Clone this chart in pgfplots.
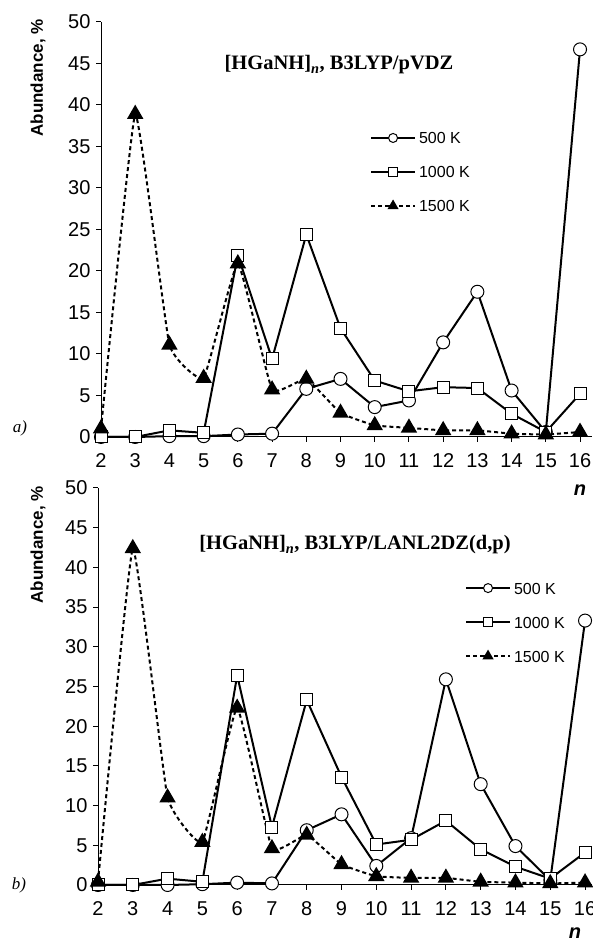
\documentclass[border=0pt]{standalone}
\usepackage{pgfplots}
\pgfplotsset{compat=1.18}
\usepackage{fontspec}
\setmainfont{Liberation Serif}
\setsansfont{Liberation Sans}

\pgfplotstableread{
n  a    b    c
2  0.0  0.0  1.0
3  0.0  0.0  38.9
4  0.1  0.8  11.1
5  0.1  0.5  7.1
6  0.3  21.9 20.9
7  0.4  9.4  5.7
8  5.8  24.4 7.0
9  7.0  13.1 2.9
10 3.6  6.8  1.4
11 4.4  5.5  1.1
12 11.4 6.0  0.8
13 17.5 5.9  0.8
14 5.6  2.8  0.4
15 0.6  0.6  0.3
16 46.7 5.2  0.6
}\topdata

\pgfplotstableread{
n  a    b    c
2  0.0  0.0  0.4
3  0.0  0.0  42.4
4  0.0  0.8  11.0
5  0.1  0.4  5.4
6  0.3  26.4 22.3
7  0.2  7.3  4.6
8  6.9  23.3 6.3
9  8.9  13.6 2.6
10 2.4  5.1  1.1
11 5.9  5.7  0.9
12 25.9 8.1  0.9
13 12.7 4.5  0.4
14 4.9  2.3  0.3
15 0.6  0.8  0.2
16 33.3 4.1  0.3
}\botdata

\pgfplotsset{
  myaxis/.style={
    scale only axis,
    axis lines=left,
    axis line style={-, line width=1pt},
    ymin=0, ymax=50,
    xtick={2,...,16},
    ytick={0,5,...,50},
    tick style={black, line width=1pt},
    major tick length=5pt,
    tick align=outside,
    /pgf/number format/assume math mode=true,
    ticklabel style={font=\sffamily\fontsize{20}{22}\selectfont},
    xticklabel style={yshift=-8pt},
    yticklabel style={xshift=-2pt},
    clip=false,
    legend cell align=left,
    legend style={draw=none, fill=none, anchor=north west, inner sep=0pt, outer sep=0pt,
      font=\sffamily\fontsize{16}{16}\selectfont, row sep=22pt, column sep=3pt,
      nodes={inner sep=0pt, text height=12pt, text depth=0pt}},
    legend image code/.code={
      \draw[#1, mark repeat=2, mark phase=2] plot coordinates {(0pt,0pt) (22pt,0pt) (44pt,0pt)};
    },
  },
  s500/.style={black, line width=2pt, mark=*, mark size=6.5pt, mark options={fill=white, line width=1pt, solid}},
  s1000/.style={black, line width=2pt, mark=square*, mark size=6pt, mark options={fill=white, line width=1pt, solid}},
  s1500/.style={black, line width=2pt, dash pattern=on 4pt off 3pt, smooth, tension=0.2, mark=triangle*, mark size=7.5pt, mark options={fill=black, solid}},
}

\begin{document}
\begin{tikzpicture}[x=1pt, y=1pt]
\path[use as bounding box] (0,0) rectangle (592,941);

% top panel
\begin{axis}[myaxis, at={(101pt,504pt)}, anchor=south west, width=491pt, height=415pt,
  xmin=2, xmax=16.35,
  legend style={at={(0.548,0.735)}},
  legend image post style={mark size=4.5pt}]
\addplot[s500] table[x=n, y=a] {\topdata};
\addlegendentry{500 K}
\addplot[s1000] table[x=n, y=b] {\topdata};
\addlegendentry{1000 K}
\addplot[s1500] table[x=n, y=c] {\topdata};
\addlegendentry{1500 K}
\end{axis}

% bottom panel
\begin{axis}[myaxis, at={(98pt,56pt)}, anchor=south west, width=494pt, height=397pt,
  xmin=2, xmax=16.2,
  legend style={at={(0.743,0.763)}},
  legend image post style={mark size=4.5pt}]
\addplot[s500] table[x=n, y=a] {\botdata};
\addlegendentry{500 K}
\addplot[s1000] table[x=n, y=b] {\botdata};
\addlegendentry{1000 K}
\addplot[s1500] table[x=n, y=c] {\botdata};
\addlegendentry{1500 K}
\end{axis}

% labels
\node[rotate=90, font=\sffamily\bfseries\fontsize{17}{17}\selectfont] at (38,863) {Abundance, \%};
\node[rotate=90, font=\sffamily\bfseries\fontsize{17}{17}\selectfont] at (38,396) {Abundance, \%};
\node[font=\bfseries\fontsize{20.5}{22}\selectfont] at (339,876) {[HGaNH]\textsubscript{\itshape n}, B3LYP/pVDZ};
\node[font=\bfseries\fontsize{20.5}{22}\selectfont] at (355,396) {[HGaNH]\textsubscript{\itshape n}, B3LYP/LANL2DZ(d,p)};
\node[font=\itshape\fontsize{17}{17}\selectfont] at (20,513) {a)};
\node[font=\itshape\fontsize{17}{17}\selectfont] at (19,56) {b)};
\node[font=\sffamily\bfseries\itshape\fontsize{20}{20}\selectfont] at (580,451) {n};
\node[font=\sffamily\bfseries\itshape\fontsize{20}{20}\selectfont] at (575,8) {n};
\end{tikzpicture}
\end{document}
